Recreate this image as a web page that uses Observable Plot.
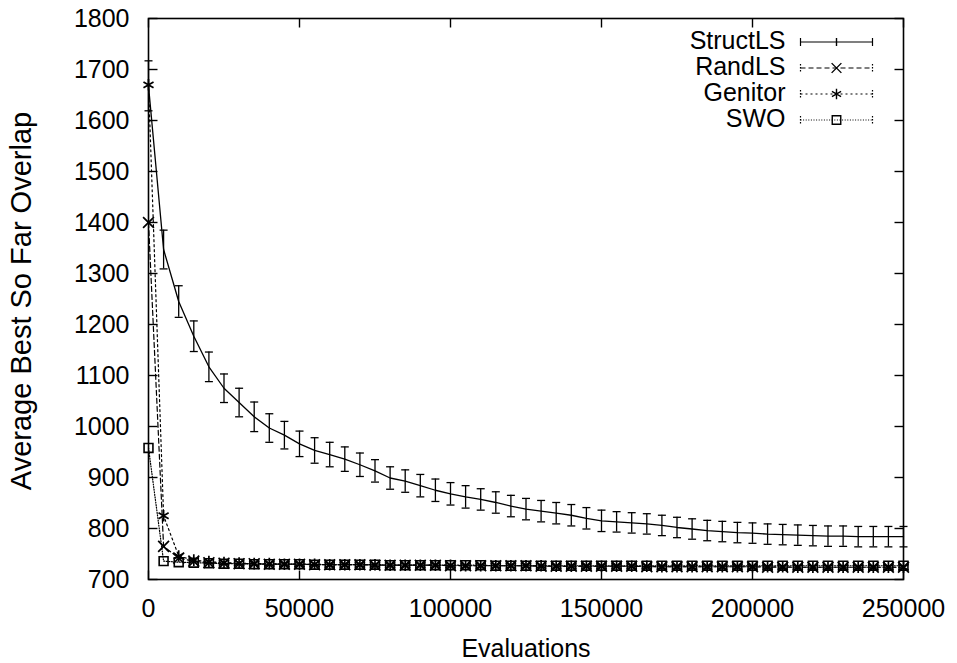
<!DOCTYPE html>
<html>
<head>
<meta charset="utf-8">
<script src="https://cdn.jsdelivr.net/npm/d3@7"></script>
<script src="https://cdn.jsdelivr.net/npm/@observablehq/plot@0.6"></script>
<style>
  html, body { margin: 0; padding: 0; background: white; }
  svg { display: block; }
</style>
</head>
<body>
<div id="chart"></div>
<script>
// ---------- data ----------
const evaluations = [0,5000,10000,15000,20000,25000,30000,35000,40000,45000,
  50000,55000,60000,65000,70000,75000,80000,85000,90000,95000,
  100000,105000,110000,115000,120000,125000,130000,135000,140000,145000,
  150000,155000,160000,165000,170000,175000,180000,185000,190000,195000,
  200000,205000,210000,215000,220000,225000,230000,235000,240000,245000,250000];

const structLS = [1668,1347,1245,1177,1117,1075,1047,1019,997,983,
  966,953,945,936,925,913,899,893,884,875,
  868,862,857,851,844,838,834,830,826,820,
  815,813,811,809,806,802,799,796,794,792,
  791,789,788,787,786,785,785,784,784,784,784];

const structLSErr = [49,38,31,30,29,28,28,29,28,27,
  25,25,24,24,23,22,22,22,22,22,
  22,22,21,21,21,21,21,21,21,21,
  21,20,20,20,20,20,20,20,20,20,
  20,20,20,20,20,20,20,20,20,20,20];

const randLS = [1400,765,742,736,733,732,731,731,730,730,
  730,729,729,729,729,728,728,728,728,728,
  727,727,727,727,727,727,726,726,726,726,
  726,726,726,725,725,725,725,725,725,725,
  725,724,724,724,724,724,724,724,724,724,724];

const genitor = [1670,825,746,738,735,733,732,731,731,730,
  730,730,729,729,729,729,728,728,728,728,
  728,727,727,727,727,727,727,726,726,726,
  726,726,726,726,725,725,725,725,725,725,
  725,725,725,724,724,724,724,724,724,724,724];

const swo = [958,736,734,733,732,731,731,730,730,730,
  730,729,729,729,729,729,728,728,728,728,
  728,728,728,727,727,727,727,727,727,727,
  727,727,727,727,727,727,727,727,727,727,
  727,727,727,727,727,727,727,727,727,727,727];

const xTicks = [0,50000,100000,150000,200000,250000];
const yTicks = [700,800,900,1000,1100,1200,1300,1400,1500,1600,1700,1800];
const seriesNames = ["StructLS","RandLS","Genitor","SWO"];
const xLabel = "Evaluations";
const yLabel = "Average Best So Far Overlap";

// ---------- custom symbols ----------
const hline = {draw(c, s){ const r = Math.sqrt(s/Math.PI); c.moveTo(-r,0); c.lineTo(r,0); }};
const vline = {draw(c, s){ const r = Math.sqrt(s/Math.PI); c.moveTo(0,-r); c.lineTo(0,r); }};
const tickUp = {draw(c, s){ const r = Math.sqrt(s/Math.PI); c.moveTo(0,0); c.lineTo(0,-r); }};
const tickDown = {draw(c, s){ const r = Math.sqrt(s/Math.PI); c.moveTo(0,0); c.lineTo(0,r); }};
const tickRight = {draw(c, s){ const r = Math.sqrt(s/Math.PI); c.moveTo(0,0); c.lineTo(r,0); }};
const tickLeft = {draw(c, s){ const r = Math.sqrt(s/Math.PI); c.moveTo(0,0); c.lineTo(-r,0); }};

// ---------- tables ----------
const structRows = evaluations.map((x, i) => ({x, y: structLS[i], lo: structLS[i] - structLSErr[i], hi: structLS[i] + structLSErr[i]}));
const mk = arr => evaluations.map((x, i) => ({x, y: arr[i]}));
const randRows = mk(randLS), genRows = mk(genitor), swoRows = mk(swo);

const series = [
  {name: seriesNames[0], dash: null, symbol: vline, r: 4},
  {name: seriesNames[1], dash: "5,3", symbol: "times", r: 4.5},
  {name: seriesNames[2], dash: "2,3", symbol: "asterisk", r: 5},
  {name: seriesNames[3], dash: "1,1.6", symbol: "square", r: 4.8}
];
const rowY = [23.5, 49.5, 75.5, 101.5];

const legendMarks = [];
series.forEach((s, i) => {
  const dy = rowY[i];
  legendMarks.push(Plot.text([s.name], {frameAnchor: "top-right", dx: -118, dy: dy - 1.5, textAnchor: "end", lineAnchor: "middle", text: d => d, fontSize: 25}));
  legendMarks.push(Plot.dot([0], {frameAnchor: "top-right", dx: -67, dy, symbol: hline, r: 36, stroke: "black", fill: "none", strokeWidth: 1.2, strokeDasharray: s.dash}));
  legendMarks.push(Plot.dot([0], {frameAnchor: "top-right", dx: -103, dy, symbol: vline, r: 4, stroke: "black", fill: "none", strokeWidth: 1.2, strokeDasharray: s.dash ? "1.5,1.5" : null}));
  legendMarks.push(Plot.dot([0], {frameAnchor: "top-right", dx: -31, dy, symbol: vline, r: 4, stroke: "black", fill: "none", strokeWidth: 1.2, strokeDasharray: s.dash ? "1.5,1.5" : null}));
  legendMarks.push(Plot.dot([0], {frameAnchor: "top-right", dx: -67, dy, symbol: s.symbol, r: s.r, stroke: "black", fill: "none", strokeWidth: 1.4}));
});

const chart = Plot.plot({
  width: 957,
  height: 663,
  marginLeft: 148,
  marginRight: 54,
  marginTop: 18,
  marginBottom: 84,
  style: {fontFamily: "'Liberation Sans', Arial, Helvetica, sans-serif", fontSize: "25px", background: "white", color: "black", overflow: "visible"},
  x: {domain: [0, 250000], axis: null},
  y: {domain: [700, 1800], axis: null},
  marks: [
    // bottom series
    Plot.line(swoRows, {x: "x", y: "y", stroke: "black", strokeWidth: 1.2, strokeDasharray: "1,1.6"}),
    Plot.dot(swoRows, {x: "x", y: "y", symbol: "square", r: 5, stroke: "black", fill: "none", strokeWidth: 1.6}),
    Plot.line(genRows, {x: "x", y: "y", stroke: "black", strokeWidth: 1.2, strokeDasharray: "2,3"}),
    Plot.dot(genRows, {x: "x", y: "y", symbol: "asterisk", r: 5.5, stroke: "black", fill: "none", strokeWidth: 1.7}),
    Plot.line(randRows, {x: "x", y: "y", stroke: "black", strokeWidth: 1.2, strokeDasharray: "5,3"}),
    Plot.dot(randRows, {x: "x", y: "y", symbol: "times", r: 5, stroke: "black", fill: "none", strokeWidth: 1.7}),
    // StructLS with error bars
    Plot.ruleX(structRows, {x: "x", y1: "lo", y2: "hi", stroke: "black", strokeWidth: 1.3}),
    Plot.dot(structRows, {x: "x", y: "hi", symbol: hline, r: 4, stroke: "black", fill: "none", strokeWidth: 1.3}),
    Plot.dot(structRows, {x: "x", y: "lo", symbol: hline, r: 4, stroke: "black", fill: "none", strokeWidth: 1.3}),
    Plot.line(structRows, {x: "x", y: "y", stroke: "black", strokeWidth: 1.3}),
    // frame and inward ticks
    Plot.frame({stroke: "black", strokeWidth: 1.6}),
    Plot.dot(xTicks, {x: d => d, y: () => 700, symbol: tickUp, r: 9, stroke: "black", strokeWidth: 1.4, fill: "none"}),
    Plot.dot(xTicks, {x: d => d, y: () => 1800, symbol: tickDown, r: 9, stroke: "black", strokeWidth: 1.4, fill: "none"}),
    Plot.dot(yTicks, {x: () => 0, y: d => d, symbol: tickRight, r: 9, stroke: "black", strokeWidth: 1.4, fill: "none"}),
    Plot.dot(yTicks, {x: () => 250000, y: d => d, symbol: tickLeft, r: 9, stroke: "black", strokeWidth: 1.4, fill: "none"}),
    // tick labels
    Plot.text(xTicks, {x: d => d, y: () => 700, text: d => String(d), dy: 29, lineAnchor: "middle", fontSize: 25}),
    Plot.text(yTicks, {x: () => 0, y: d => d, text: d => String(d), dx: -19, textAnchor: "end", lineAnchor: "middle", fontSize: 25}),
    // axis titles
    Plot.text([xLabel], {frameAnchor: "bottom", dy: 69, lineAnchor: "middle", textAnchor: "middle", text: d => d, fontSize: 25}),
    Plot.text([yLabel], {frameAnchor: "left", dx: -127, dy: 2, rotate: -90, textAnchor: "middle", lineAnchor: "middle", text: d => d, fontSize: 29}),
    ...legendMarks
  ]
});
document.getElementById("chart").appendChild(chart);
</script>
</body>
</html>
